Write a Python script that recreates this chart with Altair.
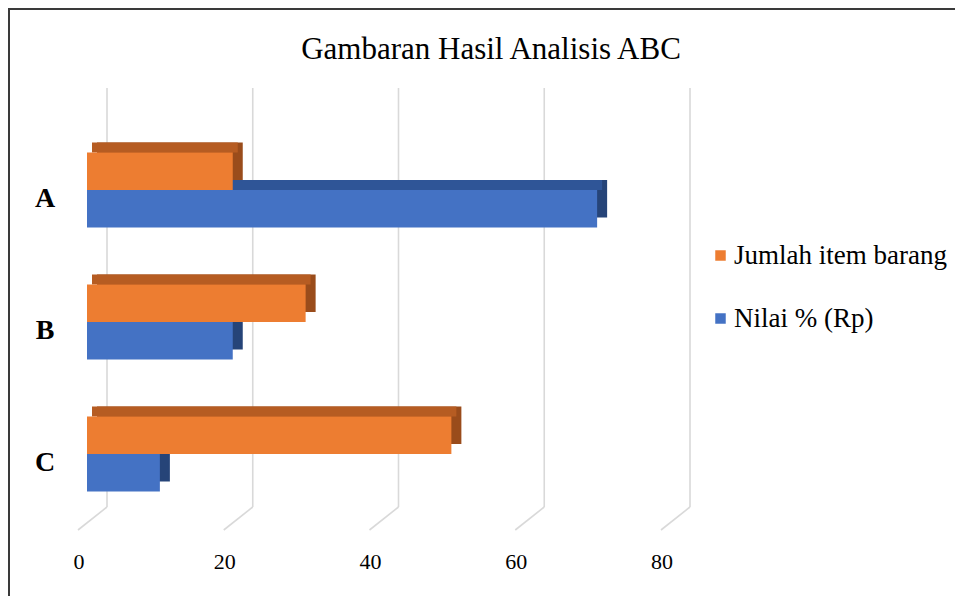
import altair as alt
import pandas as pd

# ---- data ----
categories = ["A", "B", "C"]
series = ["Jumlah item barang", "Nilai % (Rp)"]
jumlah_item = [20, 30, 50]
nilai_persen = [70, 20, 10]
ticks = [0, 20, 40, 60, 80]
title_text = "Gambaran Hasil Analisis ABC"

rows = []
for i, c in enumerate(categories):
    rows.append({"cat": c, "series": series[0], "value": jumlah_item[i]})
    rows.append({"cat": c, "series": series[1], "value": nilai_persen[i]})
df = pd.DataFrame(rows)
tick_df = pd.DataFrame({"t": ticks, "label": [str(t) for t in ticks]})
cat_df = pd.DataFrame({"cat": categories})
title_df = pd.DataFrame({"txt": [title_text]})

# ---- layout / style ----
W, H = 583, 396
PAD = {"left": 79, "top": 116, "right": 285, "bottom": 76}
DX, DY = 10, 10
GROUP = 75
FONT = "Liberation Serif"
front_colors = ["#ED7D31", "#4472C4"]
top_colors = ["#B65C22", "#2F5597"]
side_colors = ["#9A4C1B", "#264478"]

xscale = alt.Scale(domain=[0, 80], nice=False, zero=True)
yscale = alt.Scale(domain=categories, paddingInner=0.432, paddingOuter=0.216)
X = alt.X("value:Q", scale=xscale, axis=None)
Y = alt.Y("cat:N", scale=yscale, axis=None)

# back gridlines and floor diagonals
grid = alt.Chart(tick_df).mark_rule(color="#D9D9D9", strokeWidth=1.6, xOffset=20).encode(
    x=alt.X("t:Q", scale=xscale, axis=None), y=alt.value(-36), y2=alt.value(383)
)
floor = alt.Chart(tick_df).mark_rule(color="#D9D9D9", strokeWidth=1.6, xOffset=20, x2Offset=-9).encode(
    x=alt.X("t:Q", scale=xscale, axis=None), x2="t:Q", y=alt.value(383), y2=alt.value(406)
)
tick_labels = alt.Chart(tick_df).mark_text(
    font=FONT, fontSize=22, color="#000000", baseline="middle", align="center", xOffset=-8
).encode(x=alt.X("t:Q", scale=xscale, axis=None), y=alt.value(438), text="label:N")

# 3D-ish bars: side (depth), top face, front face
side = alt.Chart(df).mark_bar(xOffset=DX, x2Offset=DX).encode(
    x=X, y=Y,
    yOffset=alt.YOffset("series:N", scale=alt.Scale(domain=series, range=[-DY, GROUP - DY], paddingInner=0, paddingOuter=0)),
    color=alt.Color("series:N", scale=alt.Scale(domain=series, range=side_colors), legend=None),
)
top = alt.Chart(df).mark_bar(xOffset=DX / 2, x2Offset=DX).encode(
    x=X, y=Y,
    yOffset=alt.YOffset("series:N", scale=alt.Scale(domain=series, range=[-DY, GROUP / 2], paddingInner=1 - DY / (GROUP / 2), paddingOuter=0)),
    color=alt.Color("series:N", scale=alt.Scale(domain=series, range=top_colors), legend=None),
)
front = alt.Chart(df).mark_bar().encode(
    x=X, y=Y,
    yOffset=alt.YOffset("series:N", scale=alt.Scale(domain=series, range=[0, GROUP], paddingInner=0, paddingOuter=0)),
    color=alt.Color(
        "series:N",
        scale=alt.Scale(domain=series, range=front_colors),
        legend=alt.Legend(
            title=None, orient="none", legendX=595, legendY=118, symbolType="square",
            symbolSize=110, symbolStrokeWidth=0, symbolOffset=25, labelFont=FONT, labelFontSize=27,
            labelColor="#000000", rowPadding=35, labelOffset=0, padding=0, labelLimit=0,
        ),
    ),
)

cat_labels = alt.Chart(cat_df).mark_text(
    font=FONT, fontSize=28, fontWeight="bold", color="#000000", baseline="middle", align="center", yOffset=9
).encode(y=alt.Y("cat:N", scale=yscale, axis=None), x=alt.value(-42), text="cat:N")

title = alt.Chart(title_df).mark_text(
    font=FONT, fontSize=31, color="#000000", baseline="middle", align="center"
).encode(x=alt.value(404), y=alt.value(-74), text="txt:N")

frame_left = alt.Chart(title_df).mark_rule(color="#3A3A3A", strokeWidth=2).encode(
    x=alt.value(-78), y=alt.value(-116), y2=alt.value(H + 76)
)
frame_top = alt.Chart(title_df).mark_rule(color="#3A3A3A", strokeWidth=2).encode(
    x=alt.value(-79), x2=alt.value(W + 285), y=alt.value(-115)
)

chart = alt.layer(
    grid, floor, tick_labels, side, top, front, cat_labels, title, frame_left, frame_top
).resolve_scale(
    yOffset="independent", color="independent"
).properties(
    width=W, height=H, padding=PAD, autosize="none", background="white"
).configure_view(stroke=None)

chart.save("out.html", embed_options={"renderer": "svg", "actions": False})
